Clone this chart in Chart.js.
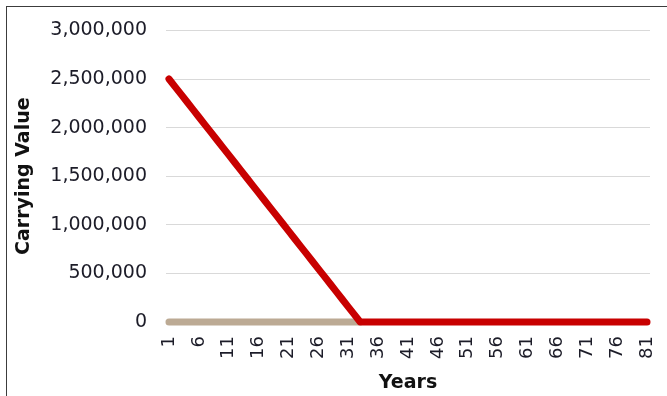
<!DOCTYPE html>
<html>
<head>
<meta charset="utf-8">
<title>Carrying Value</title>
<script src="https://cdn.jsdelivr.net/npm/chart.js@4/dist/chart.umd.min.js"></script>
<style>
  html, body { margin: 0; padding: 0; background: #ffffff; }
  #wrap { position: relative; width: 667px; height: 396px; overflow: hidden; }
  #frame { position: absolute; left: 6px; top: 6px; width: 700px; height: 420px;
           border-top: 1px solid #3c3c3c; border-left: 1px solid #3c3c3c; }
  canvas { position: absolute; left: 0; top: 0; }
</style>
</head>
<body>
<div id="wrap">
  <div id="frame"></div>
  <canvas id="chart" width="667" height="396"></canvas>
</div>
<script>
// Years 1..81
const years = [
  1, 2, 3, 4, 5, 6, 7, 8, 9, 10, 11, 12, 13, 14, 15, 16, 17, 18, 19, 20,
  21, 22, 23, 24, 25, 26, 27, 28, 29, 30, 31, 32, 33, 34, 35, 36, 37, 38, 39, 40,
  41, 42, 43, 44, 45, 46, 47, 48, 49, 50, 51, 52, 53, 54, 55, 56, 57, 58, 59, 60,
  61, 62, 63, 64, 65, 66, 67, 68, 69, 70, 71, 72, 73, 74, 75, 76, 77, 78, 79, 80, 81
];

// Carrying value of the asset, written down straight-line to zero
const carryingValue = [
  2500000, 2421875, 2343750, 2265625, 2187500, 2109375, 2031250, 1953125, 1875000, 1796875,
  1718750, 1640625, 1562500, 1484375, 1406250, 1328125, 1250000, 1171875, 1093750, 1015625,
  937500, 859375, 781250, 703125, 625000, 546875, 468750, 390625, 312500, 234375,
  156250, 78125, 0, 0, 0, 0, 0, 0, 0, 0,
  0, 0, 0, 0, 0, 0, 0, 0, 0, 0,
  0, 0, 0, 0, 0, 0, 0, 0, 0, 0,
  0, 0, 0, 0, 0, 0, 0, 0, 0, 0,
  0, 0, 0, 0, 0, 0, 0, 0, 0, 0, 0
];

// Second series, flat at zero over the depreciation period
const residualValue = [
  0, 0, 0, 0, 0, 0, 0, 0, 0, 0,
  0, 0, 0, 0, 0, 0, 0, 0, 0, 0,
  0, 0, 0, 0, 0, 0, 0, 0, 0, 0,
  0, 0, 0
];

// Y axis tick values
const yTicks = [0, 500000, 1000000, 1500000, 2000000, 2500000, 3000000];

const FONT = "'DejaVu Sans', Verdana, sans-serif";
Chart.defaults.font.family = FONT;

new Chart(document.getElementById('chart'), {
  type: 'line',
  data: {
    labels: years.map(String),
    datasets: [
      {
        label: 'Carrying Value',
        data: carryingValue,
        borderColor: '#c80000',
        borderWidth: 7,
        borderCapStyle: 'round',
        borderJoinStyle: 'round',
        pointRadius: 0,
        tension: 0,
        fill: false,
        clip: false
      },
      {
        label: 'Residual',
        data: residualValue,
        borderColor: '#bcaa94',
        borderWidth: 7,
        borderCapStyle: 'round',
        borderJoinStyle: 'round',
        pointRadius: 0,
        tension: 0,
        fill: false,
        clip: false
      }
    ]
  },
  options: {
    responsive: false,
    animation: false,
    devicePixelRatio: 1,
    layout: { padding: { top: 29, right: 17, left: 0, bottom: 0 } },
    plugins: {
      legend: { display: false },
      tooltip: { enabled: false }
    },
    scales: {
      x: {
        type: 'category',
        offset: true,
        grid: { display: false, drawTicks: false },
        border: { display: false },
        ticks: {
          autoSkip: false,
          minRotation: 90,
          maxRotation: 90,
          padding: 14,
          color: '#1c1c28',
          font: { size: 18 },
          callback: function (val, idx) {
            return idx % 5 === 0 ? this.getLabelForValue(val) : '';
          }
        },
        title: {
          display: true,
          text: 'Years',
          color: '#111111',
          font: { size: 19, weight: 'bold' },
          padding: { top: 4, bottom: 2 }
        },
        afterFit: function (scale) {
          scale.height = 74;
          scale.paddingLeft = 0;
          scale.paddingRight = 0;
        }
      },
      y: {
        min: 0,
        max: 3000000,
        grid: { color: '#d9d9d9', lineWidth: 1, drawTicks: false },
        border: { display: false },
        afterBuildTicks: function (scale) {
          scale.ticks = yTicks.map(v => ({ value: v }));
        },
        ticks: {
          padding: 19,
          color: '#1c1c28',
          font: { size: 19 },
          callback: v => Number(v).toLocaleString('en-US')
        },
        title: {
          display: true,
          text: 'Carrying Value',
          color: '#111111',
          font: { size: 19, weight: 'bold' },
          padding: { top: 13, bottom: 0 }
        },
        afterFit: function (scale) { scale.width = 166; }
      }
    }
  }
});
</script>
</body>
</html>
